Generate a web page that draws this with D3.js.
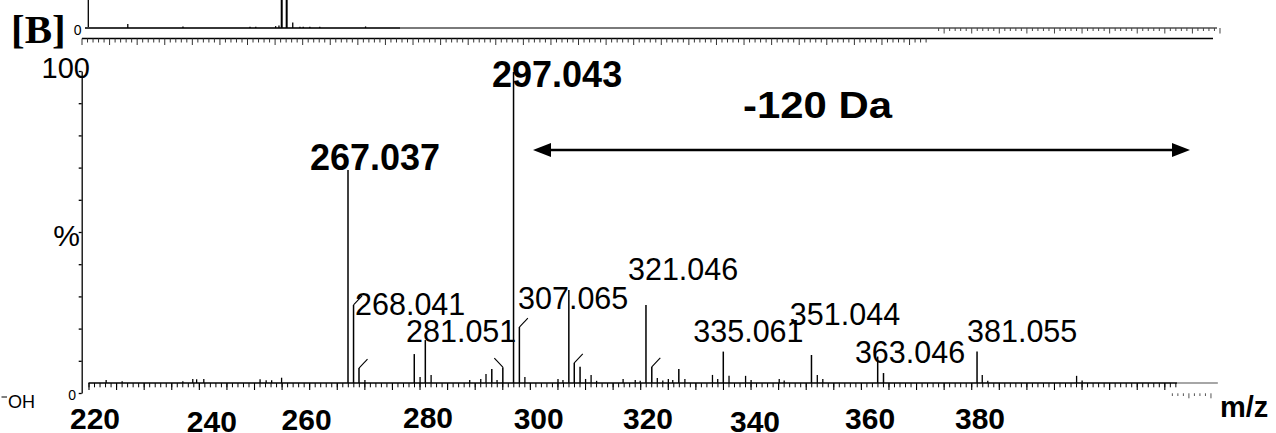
<!DOCTYPE html>
<html>
<head>
<meta charset="utf-8">
<script src="https://cdn.jsdelivr.net/npm/d3@7/dist/d3.min.js"></script>
<style>
  body { margin: 0; background: #fff; }
  svg { display: block; }
  text { font-family: "Liberation Sans", Arial, sans-serif; fill: #000; }
</style>
</head>
<body>
<svg id="chart" width="1276" height="433"></svg>
<script>
// ---- Main MS/MS spectrum: centroid peaks (m/z, relative intensity %) ----
const peakMz = [
  223.2, 226.1, 237.1, 238.9, 239.6, 240.9, 251.1, 252.2, 253.2, 255.0,
  267.037, 268.041, 269.03, 270.1,
  279.05, 280.1, 281.051, 282.1,
  289.1, 291.1, 292.05, 293.1, 294.05, 295.1,
  297.043, 298.1, 299.1,
  305.1, 306.0, 307.065, 308.05, 309.1, 310.1, 311.1, 312.1,
  316.9, 319.1, 320.0, 321.046, 322.1, 323.1, 324.1, 325.1, 325.9, 327.0, 328.1,
  333.1, 334.05, 335.061, 336.1, 339.1, 340.1, 345.2, 346.1,
  351.044, 352.1, 353.1, 363.046, 364.1,
  381.055, 382.0, 383.0, 399.1, 400.1
];
const peakIntensity = [
  1.0, 0.6, 0.6, 1.3, 1.2, 1.3, 1.2, 0.9, 0.9, 1.7,
  68.5, 25.1, 4.8, 1.0,
  9.3, 1.9, 13.8, 2.6,
  1.0, 1.3, 2.9, 4.5, 1.0, 5.1,
  100, 18.0, 1.9,
  1.3, 1.0, 29.9, 6.5, 5.2, 1.3, 2.6, 0.7,
  1.3, 1.0, 0.7, 25.1, 5.2, 1.6, 0.8, 1.3, 1.0, 4.5, 1.3,
  2.6, 1.3, 10.1, 2.3, 2.3, 1.0, 1.3, 0.8,
  9.0, 2.6, 1.3, 8.5, 3.2,
  10.1, 2.6, 0.7, 2.3, 0.8
];

// annotated peaks
const labelMz   = [267.037, 297.043, 268.041, 281.051, 307.065, 321.046, 335.061, 351.044, 363.046, 381.055];
const labelText = ["267.037", "297.043", "268.041", "281.051", "307.065", "321.046", "335.061", "351.044", "363.046", "381.055"];
const labelBold = [true, true, false, false, false, false, false, false, false, false];

// peaks carrying a short leader stroke (m/z, direction of the stroke)
const leaderMz  = [268.041, 269.03, 295.1, 298.1, 308.05, 322.1];
const leaderDir = [1, 1, -1, 1, 1, 1];

// m/z tick labels of the main axis
const xTickLabels = [220, 240, 260, 280, 300, 320, 340, 360, 380];

// ---- Upper (cropped) spectrum ----
const upperMz = [228.3, 238.3, 250.45, 251.5, 255.1, 255.7, 256.2, 257.1, 258.2, 259.5, 260.1, 261.3, 263.1, 271.4];
const upperIntensity = [1.3, 0.5, 0.4, 0.4, 0.6, 0.8, 100, 92, 1.8, 0.4, 0.4, 0.4, 0.4, 0.5];

// ---- Layout ----
const pxPerDa = 5.517;
const svg = d3.select("#chart");

// placement of each annotation relative to its peak top
const labelPlacement = {
  "267.037": [-38, 0],  "297.043": [-21.5, 15], "268.041": [1.5, 10],
  "281.051": [-19.3, 2], "307.065": [-50.8, 18.5], "321.046": [-18, -25],
  "335.061": [-30, -9.7], "351.044": [-21.6, -30], "363.046": [-22.8, 6.3],
  "381.055": [-10, -10]
};
// hand-set nudges of the bold m/z tick labels (dx, dy)
const tickLabelNudge = {
  220: [6.5, 0], 240: [13, 2.5], 260: [-2.6, 1], 280: [8.5, -1.5], 300: [8.8, 0],
  320: [7.8, -0.5], 340: [4.5, 3], 360: [9.2, 0], 380: [8.8, 0]
};

// main spectrum scales
const x = d3.scaleLinear().domain([220, 424.7]).range([88.5, 88.5 + 204.7 * pxPerDa]);
const y = d3.scaleLinear().domain([0, 100]).range([383, 72]);
const yAxisScale = d3.scaleLinear().domain([0, 100]).range([393, 71]);

// upper spectrum scales
const xUp = d3.scaleLinear().domain([220, 426]).range([82, 82 + 206 * pxPerDa]);
const yUp = d3.scaleLinear().domain([0, 100]).range([28, -283]);

// ================= Upper spectrum strip =================
const upper = svg.append("g");

upper.append("line").attr("x1", 88.3).attr("x2", 88.3).attr("y1", 0).attr("y2", 28)
  .attr("stroke", "#000").attr("stroke-width", 1.3);
upper.append("text").attr("x", 81.5).attr("y", 35).attr("text-anchor", "end")
  .attr("font-size", 14).text("0");

// baseline
upper.append("line").attr("x1", 85).attr("x2", 1217).attr("y1", 28).attr("y2", 28)
  .attr("stroke", "#7a7a7a").attr("stroke-width", 2);
upper.append("line").attr("x1", 85).attr("x2", 400).attr("y1", 28).attr("y2", 28)
  .attr("stroke", "#222").attr("stroke-width", 1.6);

upper.selectAll("line.pk").data(upperMz).join("line").attr("class", "pk")
  .attr("x1", d => xUp(d)).attr("x2", d => xUp(d))
  .attr("y1", yUp(0)).attr("y2", (d, i) => yUp(upperIntensity[i]))
  .attr("stroke", "#000").attr("stroke-width", (d, i) => upperIntensity[i] > 50 ? 2 : 1.3);

// lower tick strip of the upper spectrum
upper.append("line").attr("x1", 82).attr("x2", 1213).attr("y1", 38.5).attr("y2", 38.5)
  .attr("stroke", "#000").attr("stroke-width", 1.5);
const upperTicks = d3.range(220, 374);
upper.selectAll("line.tt").data(upperTicks).join("line").attr("class", "tt")
  .attr("x1", d => xUp(d)).attr("x2", d => xUp(d))
  .attr("y1", 38.5).attr("y2", d => d % 5 === 0 ? 45 : 42.5)
  .attr("stroke", "#333").attr("stroke-width", 1);

// displaced tick segment hanging from the baseline on the right
const upperTicksRight = d3.range(374, 426);
upper.selectAll("line.tr").data(upperTicksRight).join("line").attr("class", "tr")
  .attr("x1", d => xUp(d) + 7).attr("x2", d => xUp(d) + 7)
  .attr("y1", 28).attr("y2", d => d % 5 === 0 ? 33.5 : 31)
  .attr("stroke", "#444").attr("stroke-width", 1);

svg.append("text").attr("x", 11).attr("y", 43)
  .style("font-family", "'Liberation Serif', 'Times New Roman', serif")
  .attr("font-weight", "bold").attr("font-size", 41).text("[B]");

// ================= Main spectrum =================
const main = svg.append("g");

// y axis
main.append("g").attr("transform", "translate(81.7,0)")
  .call(d3.axisLeft(yAxisScale).tickValues(d3.range(0, 101, 10)).tickSize(3).tickSizeOuter(0).tickFormat(""))
  .call(g => g.selectAll("path,line").attr("stroke", "#000").attr("stroke-width", 1.3));

main.append("text").attr("x", 90).attr("y", 78).attr("text-anchor", "end")
  .attr("font-size", 29).text("100");
main.append("text").attr("x", 80).attr("y", 246).attr("text-anchor", "end")
  .attr("font-size", 30).text("%");
main.append("text").attr("x", 76).attr("y", 400).attr("text-anchor", "end")
  .attr("font-size", 14).text("0");

// baseline with ticks
main.append("line").attr("x1", x(220)).attr("x2", 1177).attr("y1", y(0)).attr("y2", y(0))
  .attr("stroke", "#000").attr("stroke-width", 1.6);
main.append("line").attr("x1", 1177).attr("x2", x(424.7)).attr("y1", y(0)).attr("y2", y(0))
  .attr("stroke", "#888").attr("stroke-width", 1.6);

main.append("g").attr("transform", `translate(0,${y(0)})`)
  .call(d3.axisBottom(x).tickValues(d3.range(220, 418)).tickSize(4.3).tickSizeOuter(0).tickFormat(""))
  .call(g => g.select("path").remove())
  .call(g => g.selectAll("line").attr("stroke", "#000").attr("stroke-width", 1));
main.append("g").attr("transform", `translate(0,${y(0)})`)
  .call(d3.axisBottom(x).tickValues(d3.range(220, 418, 5)).tickSize(7).tickSizeOuter(0).tickFormat(""))
  .call(g => g.select("path").remove())
  .call(g => g.selectAll("line").attr("stroke", "#000").attr("stroke-width", 1.1));

// displaced tick fragment at the right end
const mainTicksRight = d3.range(417, 425);
main.selectAll("line.mr").data(mainTicksRight).join("line").attr("class", "mr")
  .attr("x1", d => x(d) - 3).attr("x2", d => x(d) - 3)
  .attr("y1", 393.3).attr("y2", d => d % 4 === 0 ? 398.3 : 396)
  .attr("stroke", "#555").attr("stroke-width", 1);

// peaks
main.selectAll("line.pk").data(peakMz).join("line").attr("class", "pk")
  .attr("x1", d => x(d)).attr("x2", d => x(d))
  .attr("y1", y(0)).attr("y2", (d, i) => y(peakIntensity[i]))
  .attr("stroke", "#000").attr("stroke-width", (d, i) => peakIntensity[i] > 3 ? 1.5 : 1.3);

// leader strokes
main.selectAll("line.ld").data(leaderMz).join("line").attr("class", "ld")
  .attr("x1", d => x(d)).attr("y1", d => y(peakIntensity[peakMz.indexOf(d)]))
  .attr("x2", (d, i) => x(d) + 8.5 * leaderDir[i])
  .attr("y2", d => y(peakIntensity[peakMz.indexOf(d)]) - 9)
  .attr("stroke", "#000").attr("stroke-width", 1.1);

// peak annotations
main.selectAll("text.lbl").data(labelMz).join("text").attr("class", "lbl")
  .attr("x", (d, i) => x(d) + labelPlacement[labelText[i]][0])
  .attr("y", (d, i) => y(peakIntensity[peakMz.indexOf(d)]) + labelPlacement[labelText[i]][1])
  .attr("font-size", (d, i) => labelBold[i] ? 36 : 30.5)
  .attr("font-weight", (d, i) => labelBold[i] ? "bold" : "normal")
  .text((d, i) => labelText[i]);

// neutral-loss arrow
const arrowY = 150;
const arrowL = 533, arrowR = 1190;
main.append("line").attr("x1", arrowL + 14).attr("x2", arrowR - 14)
  .attr("y1", arrowY).attr("y2", arrowY).attr("stroke", "#000").attr("stroke-width", 2.4);
main.append("path")
  .attr("d", `M${arrowL},${arrowY} L${arrowL + 18},${arrowY - 7} L${arrowL + 18},${arrowY + 7} Z`)
  .attr("fill", "#000");
main.append("path")
  .attr("d", `M${arrowR},${arrowY} L${arrowR - 18},${arrowY - 7} L${arrowR - 18},${arrowY + 7} Z`)
  .attr("fill", "#000");
main.append("text").attr("x", 743).attr("y", 118).attr("font-size", 36).attr("font-weight", "bold")
  .attr("textLength", 149).attr("lengthAdjust", "spacingAndGlyphs").text("-120 Da");

// m/z tick labels
main.selectAll("text.xt").data(xTickLabels).join("text").attr("class", "xt")
  .attr("x", d => x(d) + tickLabelNudge[d][0]).attr("y", d => 429 + tickLabelNudge[d][1])
  .attr("text-anchor", "middle")
  .attr("font-size", 30).attr("font-weight", "bold").text(d => d);

main.append("text").attr("x", 1220).attr("y", 417).attr("font-size", 29)
  .attr("font-weight", "bold").text("m/z");

// fragment of a structure drawing at the lower-left edge
svg.append("line").attr("x1", 1.5).attr("x2", 7).attr("y1", 397).attr("y2", 397)
  .attr("stroke", "#000").attr("stroke-width", 1);
svg.append("text").attr("x", 8).attr("y", 408).attr("font-size", 18).text("OH");
</script>
</body>
</html>
